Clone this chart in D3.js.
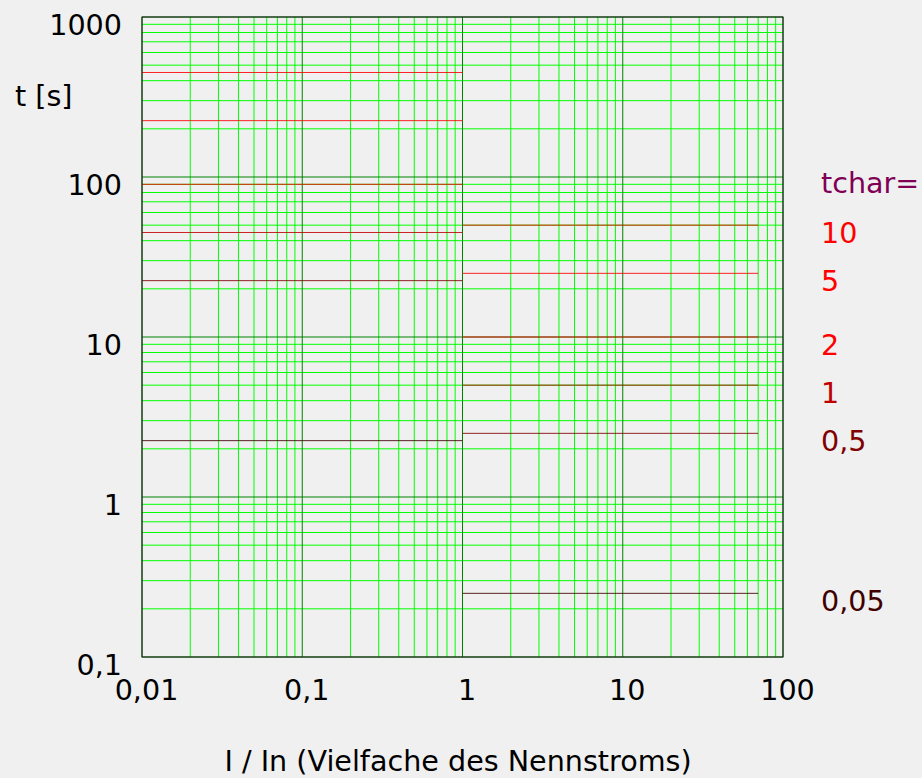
<!DOCTYPE html>
<html>
<head>
<meta charset="utf-8">
<script src="https://cdn.jsdelivr.net/npm/d3@7"></script>
<style>
  html, body { margin: 0; padding: 0; background: #f0f0f0; }
  svg { display: block; font-family: "DejaVu Sans", sans-serif; }
</style>
</head>
<body>
<svg id="chart" width="922" height="778"></svg>
<script>
// Characteristic time classes and their labels / colours
const tcharValues = [10, 5, 2, 1, 0.5, 0.05];
const tcharLabels = ["10", "5", "2", "1", "0,5", "0,05"];
const tcharColors = ["#ff0000", "#ff0000", "#ff0000", "#c00000", "#800000", "#400000"];

// Tripping time below nominal current (I/In from 0.01 to 1)
const lowCurrentTimes = [450, 225, 90, 45, 22.5, 2.25];
// Tripping time above nominal current (I/In from 1 to 70)
const highCurrentTimes = [50, 25, 10, 5, 2.5, 0.25];

// Current ranges of the two segments
const lowRange = [0.01, 1];
const highRange = [1, 70];

// Axis ticks and labels
const xTicks = [0.01, 0.1, 1, 10, 100];
const xTickLabels = ["0,01", "0,1", "1", "10", "100"];
const yTicks = [0.1, 1, 10, 100, 1000];
const yTickLabels = ["0,1", "1", "10", "100", "1000"];

const FS = 28.6;
const svg = d3.select("#chart");
const W = 922, H = 778;
const plot = { left: 142, right: 783, top: 17, bottom: 657 };

svg.append("rect").attr("width", W).attr("height", H).attr("fill", "#f0f0f0");

const x = d3.scaleLog().domain([0.01, 100]).range([plot.left, plot.right]);
const y = d3.scaleLog().domain([0.1, 1000]).range([plot.bottom, plot.top]);

const isMajor = v => Math.abs(Math.log10(v) - Math.round(Math.log10(v))) < 1e-9;

// Grid: minor lines first, decades on top
const grid = svg.append("g");
const xs = x.ticks();
const ys = y.ticks();
grid.selectAll("line.xminor").data(xs.filter(v => !isMajor(v))).join("line")
  .attr("x1", d => x(d)).attr("x2", d => x(d))
  .attr("y1", plot.top).attr("y2", plot.bottom)
  .attr("stroke", "#00ff00").attr("stroke-width", 1);
grid.selectAll("line.yminor").data(ys.filter(v => !isMajor(v))).join("line")
  .attr("y1", d => y(d)).attr("y2", d => y(d))
  .attr("x1", plot.left).attr("x2", plot.right)
  .attr("stroke", "#00ff00").attr("stroke-width", 1);
grid.selectAll("line.xmajor").data(xs.filter(isMajor)).join("line")
  .attr("x1", d => x(d)).attr("x2", d => x(d))
  .attr("y1", plot.top).attr("y2", plot.bottom)
  .attr("stroke", "#008000").attr("stroke-width", 1);
grid.selectAll("line.ymajor").data(ys.filter(isMajor)).join("line")
  .attr("y1", d => y(d)).attr("y2", d => y(d))
  .attr("x1", plot.left).attr("x2", plot.right)
  .attr("stroke", "#008000").attr("stroke-width", 1);

// Characteristic lines
const curves = svg.append("g").attr("opacity", 0.85);
curves.selectAll("line.low").data(lowCurrentTimes).join("line")
  .attr("x1", x(lowRange[0])).attr("x2", x(lowRange[1]))
  .attr("y1", d => y(d)).attr("y2", d => y(d))
  .attr("stroke", (d, i) => tcharColors[i]).attr("stroke-width", 1);
curves.selectAll("line.high").data(highCurrentTimes).join("line")
  .attr("x1", x(highRange[0])).attr("x2", x(highRange[1]))
  .attr("y1", d => y(d)).attr("y2", d => y(d))
  .attr("stroke", (d, i) => tcharColors[i]).attr("stroke-width", 1);

// Frame
svg.append("rect")
  .attr("x", plot.left).attr("y", plot.top)
  .attr("width", plot.right - plot.left).attr("height", plot.bottom - plot.top)
  .attr("fill", "none").attr("stroke", "#1a1a1a").attr("stroke-width", 1);

// Axes
const xAxis = svg.append("g").attr("transform", `translate(0,${plot.bottom})`)
  .call(d3.axisBottom(x).tickValues(xTicks).tickSize(0)
    .tickFormat((d, i) => xTickLabels[i]));
xAxis.select(".domain").remove();
xAxis.selectAll("text")
  .attr("y", 43).attr("dy", 0).attr("dx", 4)
  .attr("font-size", FS).attr("font-family", "DejaVu Sans").attr("fill", "#000");

const yAxis = svg.append("g").attr("transform", `translate(${plot.left},0)`)
  .call(d3.axisLeft(y).tickValues(yTicks).tickSize(0)
    .tickFormat((d, i) => yTickLabels[i]));
yAxis.select(".domain").remove();
yAxis.selectAll("text")
  .attr("x", -20).attr("dy", 17)
  .attr("font-size", FS).attr("font-family", "DejaVu Sans").attr("fill", "#000");

// Axis titles
svg.append("text").attr("x", 15).attr("y", 106)
  .attr("font-size", FS).attr("fill", "#000").text("t [s]");
svg.append("text").attr("x", 458).attr("y", 771).attr("text-anchor", "middle")
  .attr("font-size", FS).attr("fill", "#000").text("I / In (Vielfache des Nennstroms)");

// Right-hand legend
svg.append("text").attr("x", 821).attr("y", y(100) + 16)
  .attr("font-size", FS).attr("fill", "#800055").text("tchar=");
svg.selectAll("text.tchar").data(highCurrentTimes).join("text")
  .attr("class", "tchar")
  .attr("x", 821).attr("y", d => y(d) + 17.5)
  .attr("font-size", FS).attr("fill", (d, i) => tcharColors[i])
  .text((d, i) => tcharLabels[i]);
</script>
</body>
</html>
